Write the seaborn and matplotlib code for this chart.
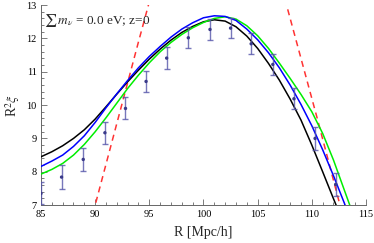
import matplotlib
matplotlib.use("Agg")
import matplotlib.pyplot as plt
import seaborn as sns
import numpy as np
import pandas as pd
from matplotlib.ticker import MultipleLocator

# ---- data ----
R_pts = [85.0, 86.9, 88.9, 90.9, 92.8, 94.7, 96.6, 98.6, 100.6, 102.5, 104.4, 106.4, 108.35, 110.3, 112.2]
xi_pts = [7.35, 7.84, 8.37, 9.17, 9.90, 10.71, 11.41, 12.02, 12.27, 12.31, 11.84, 11.22, 10.19, 9.00, 7.62]
xi_err = [0.33, 0.35, 0.34, 0.33, 0.33, 0.32, 0.32, 0.31, 0.31, 0.31, 0.31, 0.32, 0.32, 0.34, 0.35]

R_curve = [85, 86, 87, 88, 89, 90, 91, 92, 93, 94, 95, 96, 97, 98, 99, 100, 101,
           102, 103, 104, 105, 106, 107, 108, 109, 110, 111, 112, 113, 114]
black = [8.45, 8.60, 8.78, 9.00, 9.26, 9.58, 9.95, 10.33, 10.70, 11.05, 11.38, 11.68, 11.95,
         12.18, 12.36, 12.50, 12.56, 12.52, 12.35, 12.07, 11.70, 11.25, 10.75, 10.18, 9.55,
         8.80, 8.00, 7.19, 6.40, 5.60]
blue = [8.16, 8.32, 8.50, 8.76, 9.08, 9.48, 9.92, 10.34, 10.74, 11.12, 11.46, 11.76, 12.04,
        12.28, 12.47, 12.62, 12.68, 12.66, 12.54, 12.28, 11.96, 11.57, 11.12, 10.60, 10.02,
        9.38, 8.66, 7.88, 7.06, 6.20]
green = [7.93, 8.07, 8.25, 8.50, 8.82, 9.20, 9.62, 10.06, 10.50, 10.90, 11.27, 11.60, 11.88,
         12.12, 12.32, 12.48, 12.60, 12.65, 12.58, 12.38, 12.08, 11.70, 11.26, 10.80, 10.32,
         9.80, 9.15, 8.35, 7.45, 6.55]

R_red = [89.0, 90.0, 92.0, 94.0, 95.5, 107.0, 108.5, 110.5, 112.6, 113.5]
xi_red = [5.80, 7.00, 9.45, 11.90, 13.70, 13.80, 12.00, 9.60, 7.00, 5.90]

label_text = r"$\sum\, m_\nu$ = 0.0 eV; z=0"

# ---- style ----
sns.set_style("ticks")
plt.rcParams['font.family'] = ['Liberation Serif', 'DejaVu Serif']
plt.rcParams['mathtext.fontset'] = 'stix'

fig = plt.figure(figsize=(3.74, 2.43), dpi=100)
ax = fig.add_axes([0.1096, 0.156, 0.869, 0.823])

df = pd.DataFrame({"R": R_curve, "black": black, "blue": blue, "green": green})
for col, c in [("black", "black"), ("green", "#00ee00"), ("blue", "#0000ff")]:
    sns.lineplot(data=df, x="R", y=col, ax=ax, color=c, lw=1.1, zorder=3)

dred = pd.DataFrame({"R": R_red, "xi": xi_red})
sns.lineplot(data=dred, x="R", y="xi", ax=ax, color="#ff3333", lw=1.1,
             linestyle=(0, (4, 3)), zorder=2)

ax.errorbar(R_pts, xi_pts, yerr=xi_err, fmt="none", ecolor="#5555aa",
            elinewidth=1.0, capsize=2.5, capthick=1.0, alpha=0.8, zorder=4)
dp = pd.DataFrame({"R": R_pts, "xi": xi_pts})
sns.scatterplot(data=dp, x="R", y="xi", ax=ax, color="#3a3a8a", s=6,
                edgecolor="none", zorder=5)

ax.set_xlim(85, 115)
ax.set_ylim(7, 13)
ax.xaxis.set_major_locator(MultipleLocator(5))
ax.xaxis.set_minor_locator(MultipleLocator(1))
ax.yaxis.set_major_locator(MultipleLocator(1))
ax.yaxis.set_minor_locator(MultipleLocator(0.2))
ax.tick_params(which="both", direction="in", colors="#666666", labelcolor="black",
               labelsize=7.5, width=0.6)
ax.tick_params(which="major", length=4)
ax.tick_params(which="minor", length=2)
ax.tick_params(axis="x", which="major", pad=3.5)
ax.tick_params(axis="y", which="major", pad=3)
for s in ["top", "right"]:
    ax.spines[s].set_visible(False)
for s in ["left", "bottom"]:
    ax.spines[s].set_color("#666666")
    ax.spines[s].set_linewidth(0.7)

ax.set_xlabel("R [Mpc/h]", fontsize=10, labelpad=5)
ax.set_ylabel(r"R$^2\xi$", fontsize=10, labelpad=3)
ax.text(85.3, 12.55, label_text, fontsize=9.5, va="center", ha="left")

fig.savefig("out.png", dpi=100)
